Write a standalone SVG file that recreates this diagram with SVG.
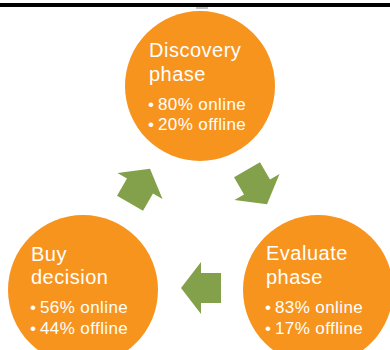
<svg xmlns="http://www.w3.org/2000/svg" width="390" height="350" viewBox="0 0 390 350">
  <defs>
    <style>
      .phase { fill: #F7941E; }
      .arrow { fill: #83A14A; }
      .title { font-family: "Liberation Sans", Arial, sans-serif; font-size: 20px; fill: #ffffff; letter-spacing: 0.5px; }
      .stat { font-family: "Liberation Sans", Arial, sans-serif; font-size: 17px; fill: #ffffff; letter-spacing: 0.4px; }
    </style>
    <!-- block arrow pointing along +x, centred on the head base -->
    <path id="cycle-arrow" d="M20,0 L0,-26 L0,-15 L-20,-15 L-20,15 L0,15 L0,26 Z"/>
  </defs>

  <rect width="390" height="350" fill="#ffffff"/>

  <!-- header rule -->
  <rect x="0" y="3" width="390" height="4" fill="#000000"/>
  <rect x="196" y="7" width="12" height="2" fill="#9a9a9a" opacity="0.6"/>

  <g id="connectors">
    <use href="#cycle-arrow" class="arrow" transform="translate(257,187) rotate(60)"/>
    <use href="#cycle-arrow" class="arrow" transform="translate(201,288) rotate(180)"/>
    <use href="#cycle-arrow" class="arrow" transform="translate(140,186) rotate(-60)"/>
  </g>

  <g id="discovery">
    <circle class="phase" cx="200" cy="86" r="75"/>
    <text class="title" x="149" y="57">Discovery</text>
    <text class="title" x="149" y="81">phase</text>
    <text class="stat" y="110"><tspan x="148">•</tspan><tspan x="158">80% online</tspan></text>
    <text class="stat" y="130"><tspan x="148">•</tspan><tspan x="158">20% offline</tspan></text>
  </g>

  <g id="evaluate">
    <circle class="phase" cx="318" cy="290" r="75"/>
    <text class="title" x="266" y="260">Evaluate</text>
    <text class="title" x="266" y="284">phase</text>
    <text class="stat" y="313"><tspan x="265">•</tspan><tspan x="275">83% online</tspan></text>
    <text class="stat" y="334"><tspan x="265">•</tspan><tspan x="275">17% offline</tspan></text>
  </g>

  <g id="buy">
    <circle class="phase" cx="83" cy="290" r="75"/>
    <text class="title" x="31" y="261">Buy</text>
    <text class="title" x="31" y="284">decision</text>
    <text class="stat" y="313"><tspan x="30">•</tspan><tspan x="40">56% online</tspan></text>
    <text class="stat" y="334"><tspan x="30">•</tspan><tspan x="40">44% offline</tspan></text>
  </g>
</svg>
